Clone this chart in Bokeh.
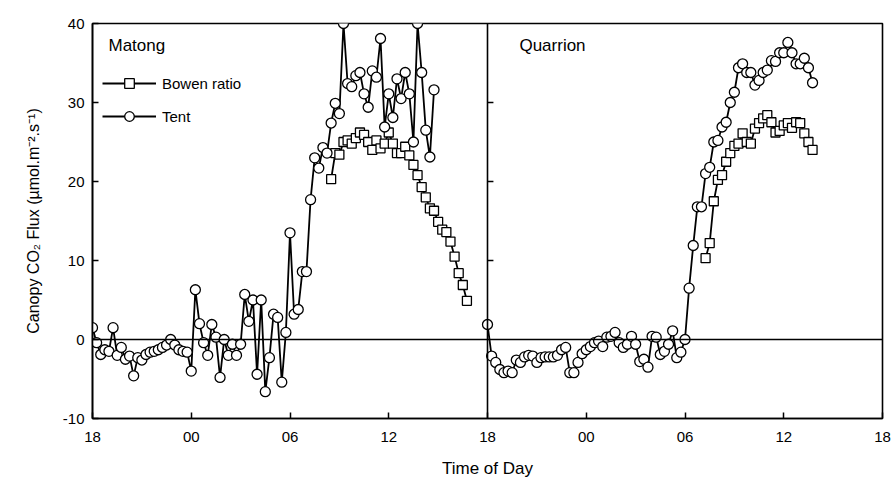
from bokeh.plotting import figure
from bokeh.models import Span, Label, Legend, LegendItem, FixedTicker
from bokeh.embed import file_html
from bokeh.resources import INLINE
import numpy as np

STEP = 0.25  # hours between samples

# Matong (left panel), hours after 18:00
matong_tent_start = 0.0
matong_tent = [1.5, -0.4, -1.9, -1.3, -1.5, 1.5, -2.0, -1.0, -2.5, -2.1,
               -4.6, -2.3, -2.6, -1.9, -1.6, -1.5, -1.3, -1.0, -0.7, 0.0,
               -0.7, -1.3, -1.5, -1.6, -4.0, 6.3, 2.0, -0.4, -2.0, 1.9,
               0.3, -4.8, 0.0, -2.0, -0.6, -2.0, -0.6, 5.7, 2.3, 5.0,
               -4.4, 5.0, -6.6, -2.3, 3.2, 2.8, -5.4, 0.9, 13.5, 3.2,
               3.8, 8.6, 8.6, 17.7, 23.0, 21.7, 24.3, 23.6, 27.4, 29.9,
               28.6, 40.0, 32.4, 32.0, 33.4, 33.8, 31.1, 29.4, 34.0, 33.2,
               38.1, 26.9, 31.1, 28.1, 33.0, 30.5, 33.8, 31.1, 25.0, 40.0,
               33.8, 26.5, 23.1, 31.6]
matong_bowen_start = 14.5
matong_bowen = [20.3, 23.6, 23.4, 25.0, 25.2, 24.8, 25.5, 26.2, 25.9, 25.0,
                24.0, 25.2, 24.2, 24.8, 26.2, 24.8, 23.6, 23.6, 24.4, 23.3,
                22.1, 20.8, 19.3, 18.0, 16.6, 16.3, 14.9, 13.9, 13.6, 12.4,
                10.5, 8.4, 6.9, 4.9]

# Quarrion (right panel), hours after 18:00
quarrion_tent_start = 0.0
quarrion_tent = [1.9, -2.1, -2.9, -3.8, -4.2, -4.0, -4.2, -2.6, -2.9, -2.2,
                 -2.0, -2.1, -2.9, -2.3, -2.2, -2.2, -2.2, -2.0, -1.3, -1.0,
                 -4.2, -4.2, -2.9, -1.8, -1.3, -0.9, -0.4, -0.2, -0.9, 0.3,
                 0.4, 0.9, -0.4, -1.0, -0.6, 0.4, -0.6, -2.8, -2.5, -3.5,
                 0.4, 0.3, -1.9, -1.5, -0.6, 1.1, -2.3, -1.6, 0.0, 6.5,
                 11.9, 16.8, 16.8, 21.0, 21.8, 25.0, 25.2, 26.9, 27.5, 30.0,
                 31.3, 34.4, 34.9, 33.8, 33.8, 32.2, 32.8, 33.8, 34.1, 35.3,
                 35.2, 36.3, 36.3, 37.6, 36.3, 34.9, 34.9, 35.6, 34.4, 32.5]
quarrion_bowen_start = 13.25
quarrion_bowen = [10.3, 12.2, 17.5, 20.2, 20.8, 22.5, 23.6, 24.5, 24.8, 26.1,
                  25.0, 24.8, 26.7, 27.4, 28.0, 28.4, 27.5, 26.2, 26.4, 27.1,
                  27.4, 26.8, 27.5, 27.4, 26.1, 25.0, 24.0]

panel_names = ["Matong", "Quarrion"]
panel_offsets = [18, 42]
tick_positions = [18, 24, 30, 36, 42, 48, 54, 60, 66]
tick_labels = ["18", "00", "06", "12", "18", "00", "06", "12", "18"]
y_ticks = [-10, 0, 10, 20, 30, 40]
y_tick_labels = ["-10", "0", "10", "20", "30", "40"]
inner_y_ticks = [10, 20, 30]

FONT = "Liberation Sans"


def times(start, vals, offset):
    return offset + start + STEP * np.arange(len(vals))


p = figure(width=893, height=484, x_range=(18, 66), y_range=(-10, 40),
           output_backend="svg", toolbar_location=None,
           min_border_left=92, min_border_right=11,
           min_border_top=23, min_border_bottom=66)
p.xgrid.visible = False
p.ygrid.visible = False
p.outline_line_color = "black"
p.outline_line_width = 1.6
p.outline_line_alpha = 1.0

for ax in (p.xaxis[0], p.yaxis[0]):
    ax.axis_line_width = 1.6
    ax.axis_line_color = "black"
    ax.major_tick_line_width = 1.5
    ax.major_tick_line_color = "black"
    ax.major_tick_in = 6
    ax.major_tick_out = 0
    ax.minor_tick_line_color = None
    ax.major_label_text_font = FONT
    ax.major_label_text_font_size = "15px"
    ax.major_label_text_color = "black"
    ax.axis_label_text_font = FONT
    ax.axis_label_text_font_style = "normal"
    ax.axis_label_text_color = "black"

p.xaxis.ticker = FixedTicker(ticks=tick_positions)
p.xaxis.major_label_overrides = {t: l for t, l in zip(tick_positions, tick_labels)}
p.xaxis.major_label_standoff = 13
p.xaxis.axis_label = "Time of Day"
p.xaxis.axis_label_text_font_size = "17px"
p.xaxis.axis_label_standoff = 14

p.yaxis.ticker = FixedTicker(ticks=y_ticks)
p.yaxis.major_label_overrides = {t: l for t, l in zip(y_ticks, y_tick_labels)}
p.yaxis.major_label_standoff = 8
p.yaxis.axis_label = "Canopy CO\u2082 Flux (\u00b5mol.m\u207b\u00b2.s\u207b\u00b9)"
p.yaxis.axis_label_text_font_size = "16px"
p.yaxis.axis_label_standoff = 18

# zero line and panel divider
p.add_layout(Span(location=0, dimension="width", line_color="black", line_width=1.6))
p.add_layout(Span(location=42, dimension="height", line_color="black", line_width=1.6))
# inward ticks of the right panel's axis
p.segment(x0=[42] * len(inner_y_ticks), y0=inner_y_ticks,
          x1=[42.36] * len(inner_y_ticks), y1=inner_y_ticks,
          line_color="black", line_width=1.5)

series = [
    (matong_bowen_start, matong_bowen, 18, "square"),
    (matong_tent_start, matong_tent, 18, "circle"),
    (quarrion_bowen_start, quarrion_bowen, 42, "square"),
    (quarrion_tent_start, quarrion_tent, 42, "circle"),
]
legend_refs = {}
for start, vals, off, marker in series:
    xs = times(start, vals, off)
    ln = p.line(xs, vals, line_color="black", line_width=1.8)
    sz = 9 if marker == "square" else 10
    sc = p.scatter(xs, vals, marker=marker, size=sz, fill_color="white",
                   line_color="black", line_width=1.3)
    if off == 18:
        legend_refs[marker] = [ln, sc]

legend = Legend(items=[LegendItem(label="Bowen ratio", renderers=legend_refs["square"]),
                       LegendItem(label="Tent", renderers=legend_refs["circle"])],
                location=(10, 290), background_fill_alpha=0, border_line_alpha=0,
                padding=0, margin=0, glyph_width=54, glyph_height=24,
                spacing=9, label_standoff=6, label_text_font=FONT,
                label_text_font_size="15px", label_text_color="black")
p.add_layout(legend)

p.add_layout(Label(x=18.97, y=37.2, text=panel_names[0], text_font=FONT,
                   text_font_size="17px", text_baseline="middle", text_color="black"))
p.add_layout(Label(x=43.94, y=37.2, text=panel_names[1], text_font=FONT,
                   text_font_size="17px", text_baseline="middle", text_color="black"))

open("out.html", "w").write(file_html(p, INLINE))
